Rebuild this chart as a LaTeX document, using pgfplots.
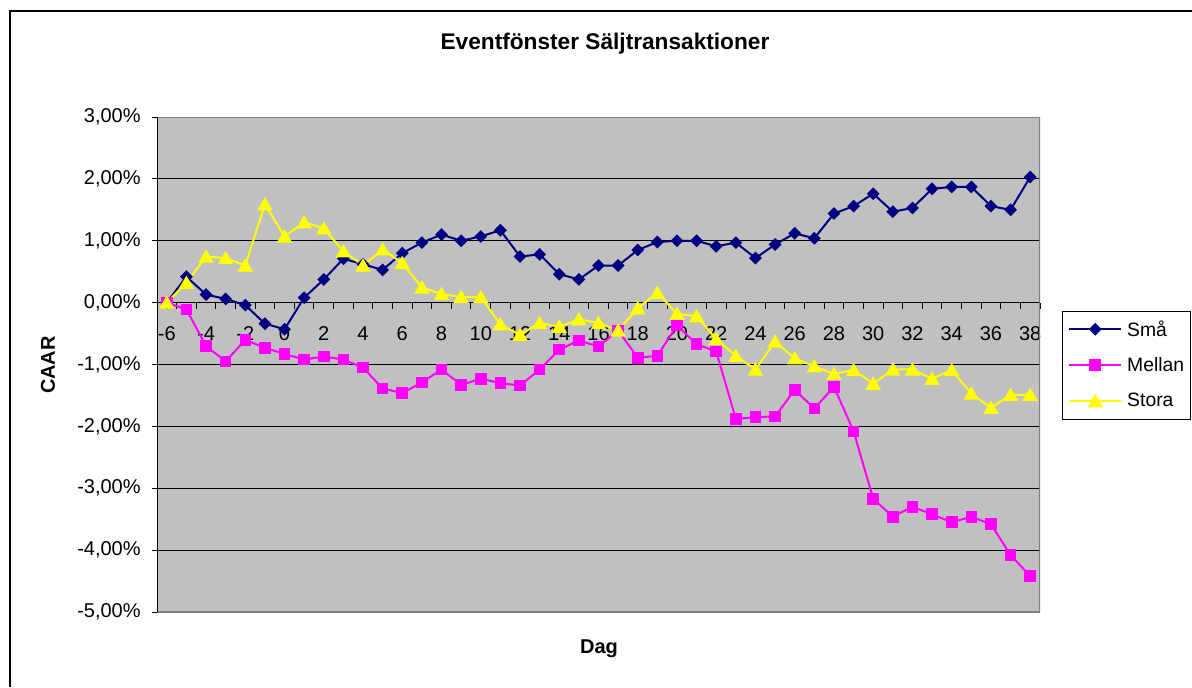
\documentclass[border=0pt]{standalone}
\usepackage{pgfplots}
\usepackage{pgfplotstable}
\pgfplotsset{compat=1.18}
\usepackage{fontspec}
\setmainfont{Liberation Sans}
\definecolor{plotgray}{HTML}{C0C0C0}
\definecolor{bordergray}{HTML}{808080}
\definecolor{navy}{HTML}{000080}
\definecolor{mag}{HTML}{FF00FF}
\definecolor{yel}{HTML}{FFFF00}
\pgfplotstableread{
x sma mellan stora
-6 0.00 0.00 0.00
-5 0.42 -0.11 0.32
-4 0.13 -0.70 0.745
-3 0.06 -0.95 0.72
-2 -0.04 -0.60 0.60
-1 -0.34 -0.73 1.59
0 -0.43 -0.83 1.07
1 0.08 -0.92 1.30
2 0.375 -0.87 1.20
3 0.71 -0.92 0.83
4 0.62 -1.05 0.60
5 0.53 -1.39 0.86
6 0.80 -1.46 0.64
7 0.97 -1.29 0.245
8 1.10 -1.08 0.14
9 1.00 -1.33 0.09
10 1.07 -1.23 0.09
11 1.17 -1.30 -0.35
12 0.745 -1.34 -0.52
13 0.78 -1.08 -0.33
14 0.46 -0.76 -0.39
15 0.375 -0.61 -0.27
16 0.60 -0.71 -0.33
17 0.60 -0.45 -0.45
18 0.85 -0.89 -0.09
19 0.98 -0.86 0.16
20 1.00 -0.37 -0.18
21 1.00 -0.67 -0.22
22 0.91 -0.79 -0.59
23 0.97 -1.88 -0.86
24 0.72 -1.85 -1.08
25 0.94 -1.84 -0.63
26 1.12 -1.41 -0.90
27 1.04 -1.71 -1.03
28 1.44 -1.36 -1.15
29 1.56 -2.08 -1.09
30 1.76 -3.17 -1.31
31 1.47 -3.46 -1.08
32 1.53 -3.30 -1.08
33 1.84 -3.42 -1.23
34 1.87 -3.55 -1.09
35 1.87 -3.46 -1.47
36 1.56 -3.58 -1.70
37 1.50 -4.08 -1.49
38 2.03 -4.42 -1.49
}\datatable
\begin{document}
\begin{tikzpicture}[x=0.75pt,y=0.75pt]
\path[use as bounding box] (0,0) rectangle (1192,-687);
\draw[line width=1.5pt] (9.5,-687) -- (9.5,-10.5) -- (1192,-10.5);
\node[font=\fontsize{17}{20}\selectfont\bfseries] at (605,-44) {Eventfönster Säljtransaktioner};
\begin{axis}[
  at={(117.75pt,-459pt)}, anchor=south west,
  scale only axis, width=662.25pt, height=371.25pt,
  xmin=-6.5, xmax=38.5, ymin=-5, ymax=3,
  axis x line=middle, axis y line=left,
  axis line style={-, black, line width=0.75pt},
  hide obscured x ticks=false, hide obscured y ticks=false,
  axis background/.style={fill=plotgray},
  ytick={-5,-4,...,3},
  ymajorgrids, grid style={black, line width=0.75pt},
  xtick={-6,-4,...,38},
  minor xtick={-5.5,-4.5,...,38.5},
  tick align=outside,
  major tick length=3.75pt, minor tick length=4.5pt,
  major x tick style={draw=none},
  minor x tick style={black, line width=0.75pt},
  major y tick style={black, line width=0.75pt},
  /pgf/number format/assume math mode=true,
  ticklabel style={font=\fontsize{15}{18}\selectfont},
  yticklabel={\pgfmathprintnumber[fixed,fixed zerofill,precision=2,use comma]{\tick}\%},
  yticklabel style={xshift=-5pt},
  xticklabel style={yshift=-10.5pt},
  legend style={at={(1.0246,0.6087)}, anchor=north west, draw=black, line width=0.75pt, fill=white,
    font=\fontsize{14.5}{17}\selectfont, inner xsep=4.5pt, inner ysep=0pt, column sep=3.75pt,
    nodes={inner sep=0pt, minimum height=27pt}},
  legend cell align=left,
  legend image code/.code={\draw[#1] (0pt,0pt) -- (39pt,0pt); \draw[#1] plot coordinates {(19.5pt,0pt)};},
]
\draw[bordergray, line width=1.5pt] (rel axis cs:0,1) -- (rel axis cs:1,1) -- (rel axis cs:1,0) -- (rel axis cs:0,0);
\addplot[navy, line width=1.5pt, mark=square*, mark size=2.65pt, mark options={rotate=45, solid, fill=navy}] table[x=x, y=sma] {\datatable};
\addlegendentry{Små}
\addplot[mag, line width=1.5pt, mark=square*, mark size=3.6pt, mark options={solid, fill=mag}] table[x=x, y=mellan] {\datatable};
\addlegendentry{Mellan}
\addplot[yel, line width=1.5pt, mark=triangle*, mark size=5.2pt, mark options={solid, fill=yel, yshift=-1.2pt}] table[x=x, y=stora] {\datatable};
\addlegendentry{Stora}
\draw[black, line width=0.75pt] (rel axis cs:0,0) -- (rel axis cs:0,1);
\end{axis}
\node[font=\fontsize{15}{18}\selectfont\bfseries, rotate=90] at (48,-365) {CAAR};
\node[font=\fontsize{15}{18}\selectfont\bfseries] at (599,-649) {Dag};
\end{tikzpicture}
\end{document}
